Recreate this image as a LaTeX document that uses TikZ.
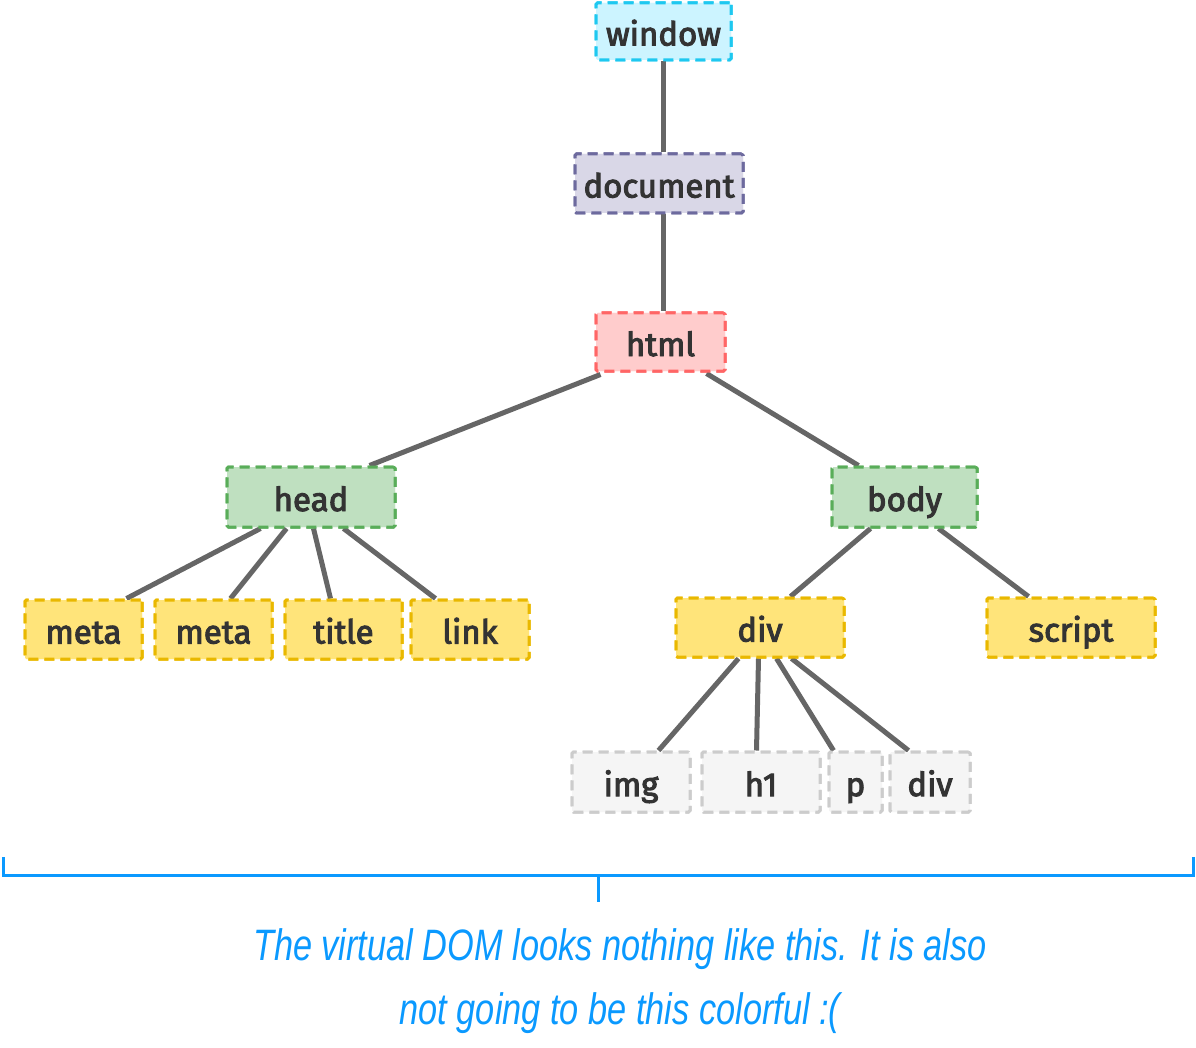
\documentclass[tikz,border=0pt]{standalone}
\usepackage{fontspec}
\setmainfont{Fira Sans}
\newfontfamily\nodefont[FakeBold=3]{Fira Sans}
\newfontfamily\notefont[FakeStretch=0.78]{Liberation Sans Italic}
\definecolor{txt}{HTML}{333333}
\definecolor{edge}{HTML}{666666}
\definecolor{cyanF}{HTML}{CCF4FF}\definecolor{cyanD}{HTML}{1EC8F0}
\definecolor{purF}{HTML}{D9D7E7}\definecolor{purD}{HTML}{6D6A9E}
\definecolor{redF}{HTML}{FFCCCC}\definecolor{redD}{HTML}{FF6666}
\definecolor{grnF}{HTML}{BFE0C0}\definecolor{grnD}{HTML}{59AD59}
\definecolor{yelF}{HTML}{FFE47A}\definecolor{yelD}{HTML}{E9B800}
\definecolor{gryF}{HTML}{F5F5F5}\definecolor{gryD}{HTML}{CCCCCC}
\definecolor{blu}{HTML}{0A99FF}
\tikzset{
  box/.style={draw, line width=3pt, dash pattern=on 10pt off 6pt, rounded corners=1.5pt,
    inner sep=0pt, minimum height=59pt, text=txt, text height=32pt, text depth=4pt,
    font=\nodefont\fontsize{33}{36}\selectfont},
  cy/.style={box, fill=cyanF, draw=cyanD},
  pu/.style={box, fill=purF, draw=purD},
  rd/.style={box, fill=redF, draw=redD},
  gn/.style={box, fill=grnF, draw=grnD},
  yl/.style={box, fill=yelF, draw=yelD},
  gy/.style={box, fill=gryF, draw=gryD},
  conn/.style={draw=edge, line width=5pt},
  brk/.style={draw=blu, line width=3pt}
}
\begin{document}
\begin{tikzpicture}[x=1pt,y=-1pt]
\useasboundingbox (0,0) rectangle (1196,1048);
% node positions (boxes drawn first to get names)
\node[cy, minimum width=135pt, minimum height=57pt] (window) at (663.5,31.5) {window};
\node[pu, minimum width=168pt] (document) at (659,183.5) {document};
\node[rd, minimum width=129pt, minimum height=58pt] (html) at (660.5,342) {html};
\node[gn, minimum width=168pt, minimum height=60pt] (head) at (311,497) {head};
\node[gn, minimum width=145pt, minimum height=60pt] (body) at (904.5,497) {body};
\node[yl, minimum width=117pt] (meta1) at (83.5,629.5) {meta};
\node[yl, minimum width=117pt] (meta2) at (213.5,629.5) {meta};
\node[yl, minimum width=117pt] (title) at (343.5,629.5) {title};
\node[yl, minimum width=118pt] (link) at (470,629.5) {link};
\node[yl, minimum width=168pt] (div) at (760,627.5) {div};
\node[yl, minimum width=168pt] (script) at (1071,627.5) {script};
\node[gy, minimum width=118pt, minimum height=60pt] (img) at (631,782) {img};
\node[gy, minimum width=118pt, minimum height=60pt] (h1) at (761,782) {h1};
\node[gy, minimum width=53pt, minimum height=60pt] (p) at (855.5,782) {p};
\node[gy, minimum width=80pt, minimum height=60pt] (div2) at (930,782) {div};
% connectors
\path[conn] ([xshift=-0.5pt]window.south) -- ([xshift=4pt]document.north);
\path[conn] ([xshift=4pt]document.south) -- ([xshift=2.5pt]html.north);
\path[conn] ([xshift=6pt,yshift=-2pt]html.south west) -- ([xshift=144pt]head.north west);
\path[conn] ([xshift=112pt,yshift=-1pt]html.south west) -- ([xshift=28pt]body.north west);
\path[conn] ([xshift=35pt]head.south west) -- ([xshift=103pt]meta1.north west);
\path[conn] ([xshift=61pt]head.south west) -- ([xshift=77pt]meta2.north west);
\path[conn] ([xshift=88pt]head.south west) -- ([xshift=47pt]title.north west);
\path[conn] ([xshift=118pt]head.south west) -- ([xshift=26pt]link.north west);
\path[conn] ([xshift=40pt]body.south west) -- ([xshift=116pt]div.north west);
\path[conn] ([xshift=108pt]body.south west) -- ([xshift=43pt]script.north west);
\path[conn] ([xshift=64pt]div.south west) -- ([xshift=88pt]img.north west);
\path[conn] ([xshift=84pt]div.south west) -- ([xshift=56pt]h1.north west);
\path[conn] ([xshift=102pt]div.south west) -- ([xshift=6pt]p.north west);
\path[conn] ([xshift=117pt]div.south west) -- ([xshift=20pt]div2.north west);
% boxes again on top of connectors
\node[cy, minimum width=135pt, minimum height=57pt] at (window) {window};
\node[pu, minimum width=168pt] at (document) {document};
\node[rd, minimum width=129pt, minimum height=58pt] at (html) {html};
\node[gn, minimum width=168pt, minimum height=60pt] at (head) {head};
\node[gn, minimum width=145pt, minimum height=60pt] at (body) {body};
\node[yl, minimum width=117pt] at (meta1) {meta};
\node[yl, minimum width=117pt] at (meta2) {meta};
\node[yl, minimum width=117pt] at (title) {title};
\node[yl, minimum width=118pt] at (link) {link};
\node[yl, minimum width=168pt] at (div) {div};
\node[yl, minimum width=168pt] at (script) {script};
\node[gy, minimum width=118pt, minimum height=60pt] at (img) {img};
\node[gy, minimum width=118pt, minimum height=60pt] at (h1) {h1};
\node[gy, minimum width=53pt, minimum height=60pt] at (p) {p};
\node[gy, minimum width=80pt, minimum height=60pt] at (div2) {div};
% bracket
\coordinate (bl) at (3,857);
\coordinate (br) at (1193,857);
\coordinate (bm) at (598,875);
\coordinate (bt) at (598,902);
\path[brk] (bl) |- (bm) -| (br);
\path[brk] (bm) -- (bt);
\node[text=blu, font=\notefont\fontsize{44}{64}\selectfont, align=center] (note) at (620,981) {The virtual DOM looks nothing like this. It is also\\not going to be this colorful :(};
\end{tikzpicture}
\end{document}
